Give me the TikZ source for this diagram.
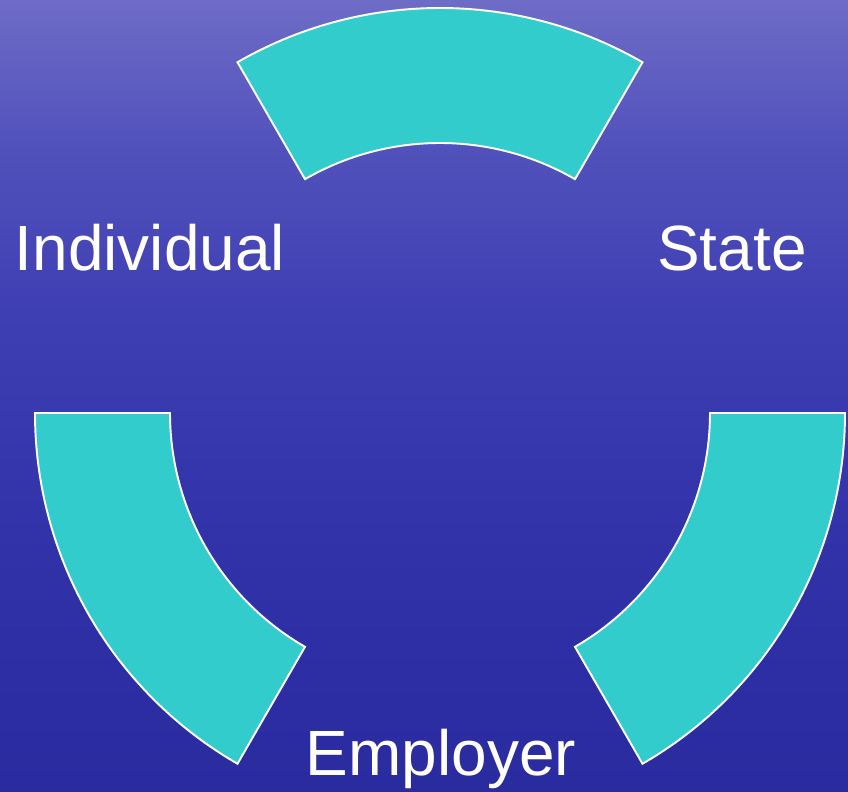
\documentclass[tikz,border=0pt]{standalone}
\usepackage{fontspec}
\setmainfont{Liberation Sans}

\definecolor{Sea}{HTML}{2B2BA0}
\definecolor{SeaLow}{HTML}{3131A8}
\definecolor{SeaMid}{HTML}{4040B4}
\definecolor{SeaHigh}{HTML}{5252BC}
\definecolor{SeaTop}{HTML}{6E6CC6}
\definecolor{Teal}{HTML}{33CCCC}

% the path is mapped onto 25bp..75bp of the shading
\pgfdeclareverticalshading{sea}{100bp}{color(0bp)=(Sea); color(25bp)=(Sea);
  color(40bp)=(SeaLow); color(56bp)=(SeaMid); color(66bp)=(SeaHigh);
  color(75bp)=(SeaTop); color(100bp)=(SeaTop)}

\begin{document}
\begin{tikzpicture}[x=0.02cm,y=0.02cm,
seg/.style={fill=Teal,draw=white,line width=1.1pt,line join=miter},
lbl/.style={text=white,anchor=base,inner sep=0pt},
nodes={font=\fontsize{36.4}{40}\selectfont}]
\def\R{405} % outer radius
\def\r{270} % inner radius
% background
\shade[shading=sea] (-440,-378) rectangle (408,413);
\useasboundingbox (-440,-378) rectangle (408,413);
% the three ring pieces
\foreach \a in {60,180,300}
  \draw[seg] (\a:\R) arc[start angle=\a,end angle=\a+60,radius=\R]
    -- (\a+60:\r) arc[start angle=\a+60,end angle=\a,radius=\r] -- cycle;
\path
(-290,142) node[lbl] (ind) {Individual}
(292,142) node[lbl] (st) {State}
(1,-362) node[lbl] (emp) {Employer}
;
\end{tikzpicture}
\end{document}
